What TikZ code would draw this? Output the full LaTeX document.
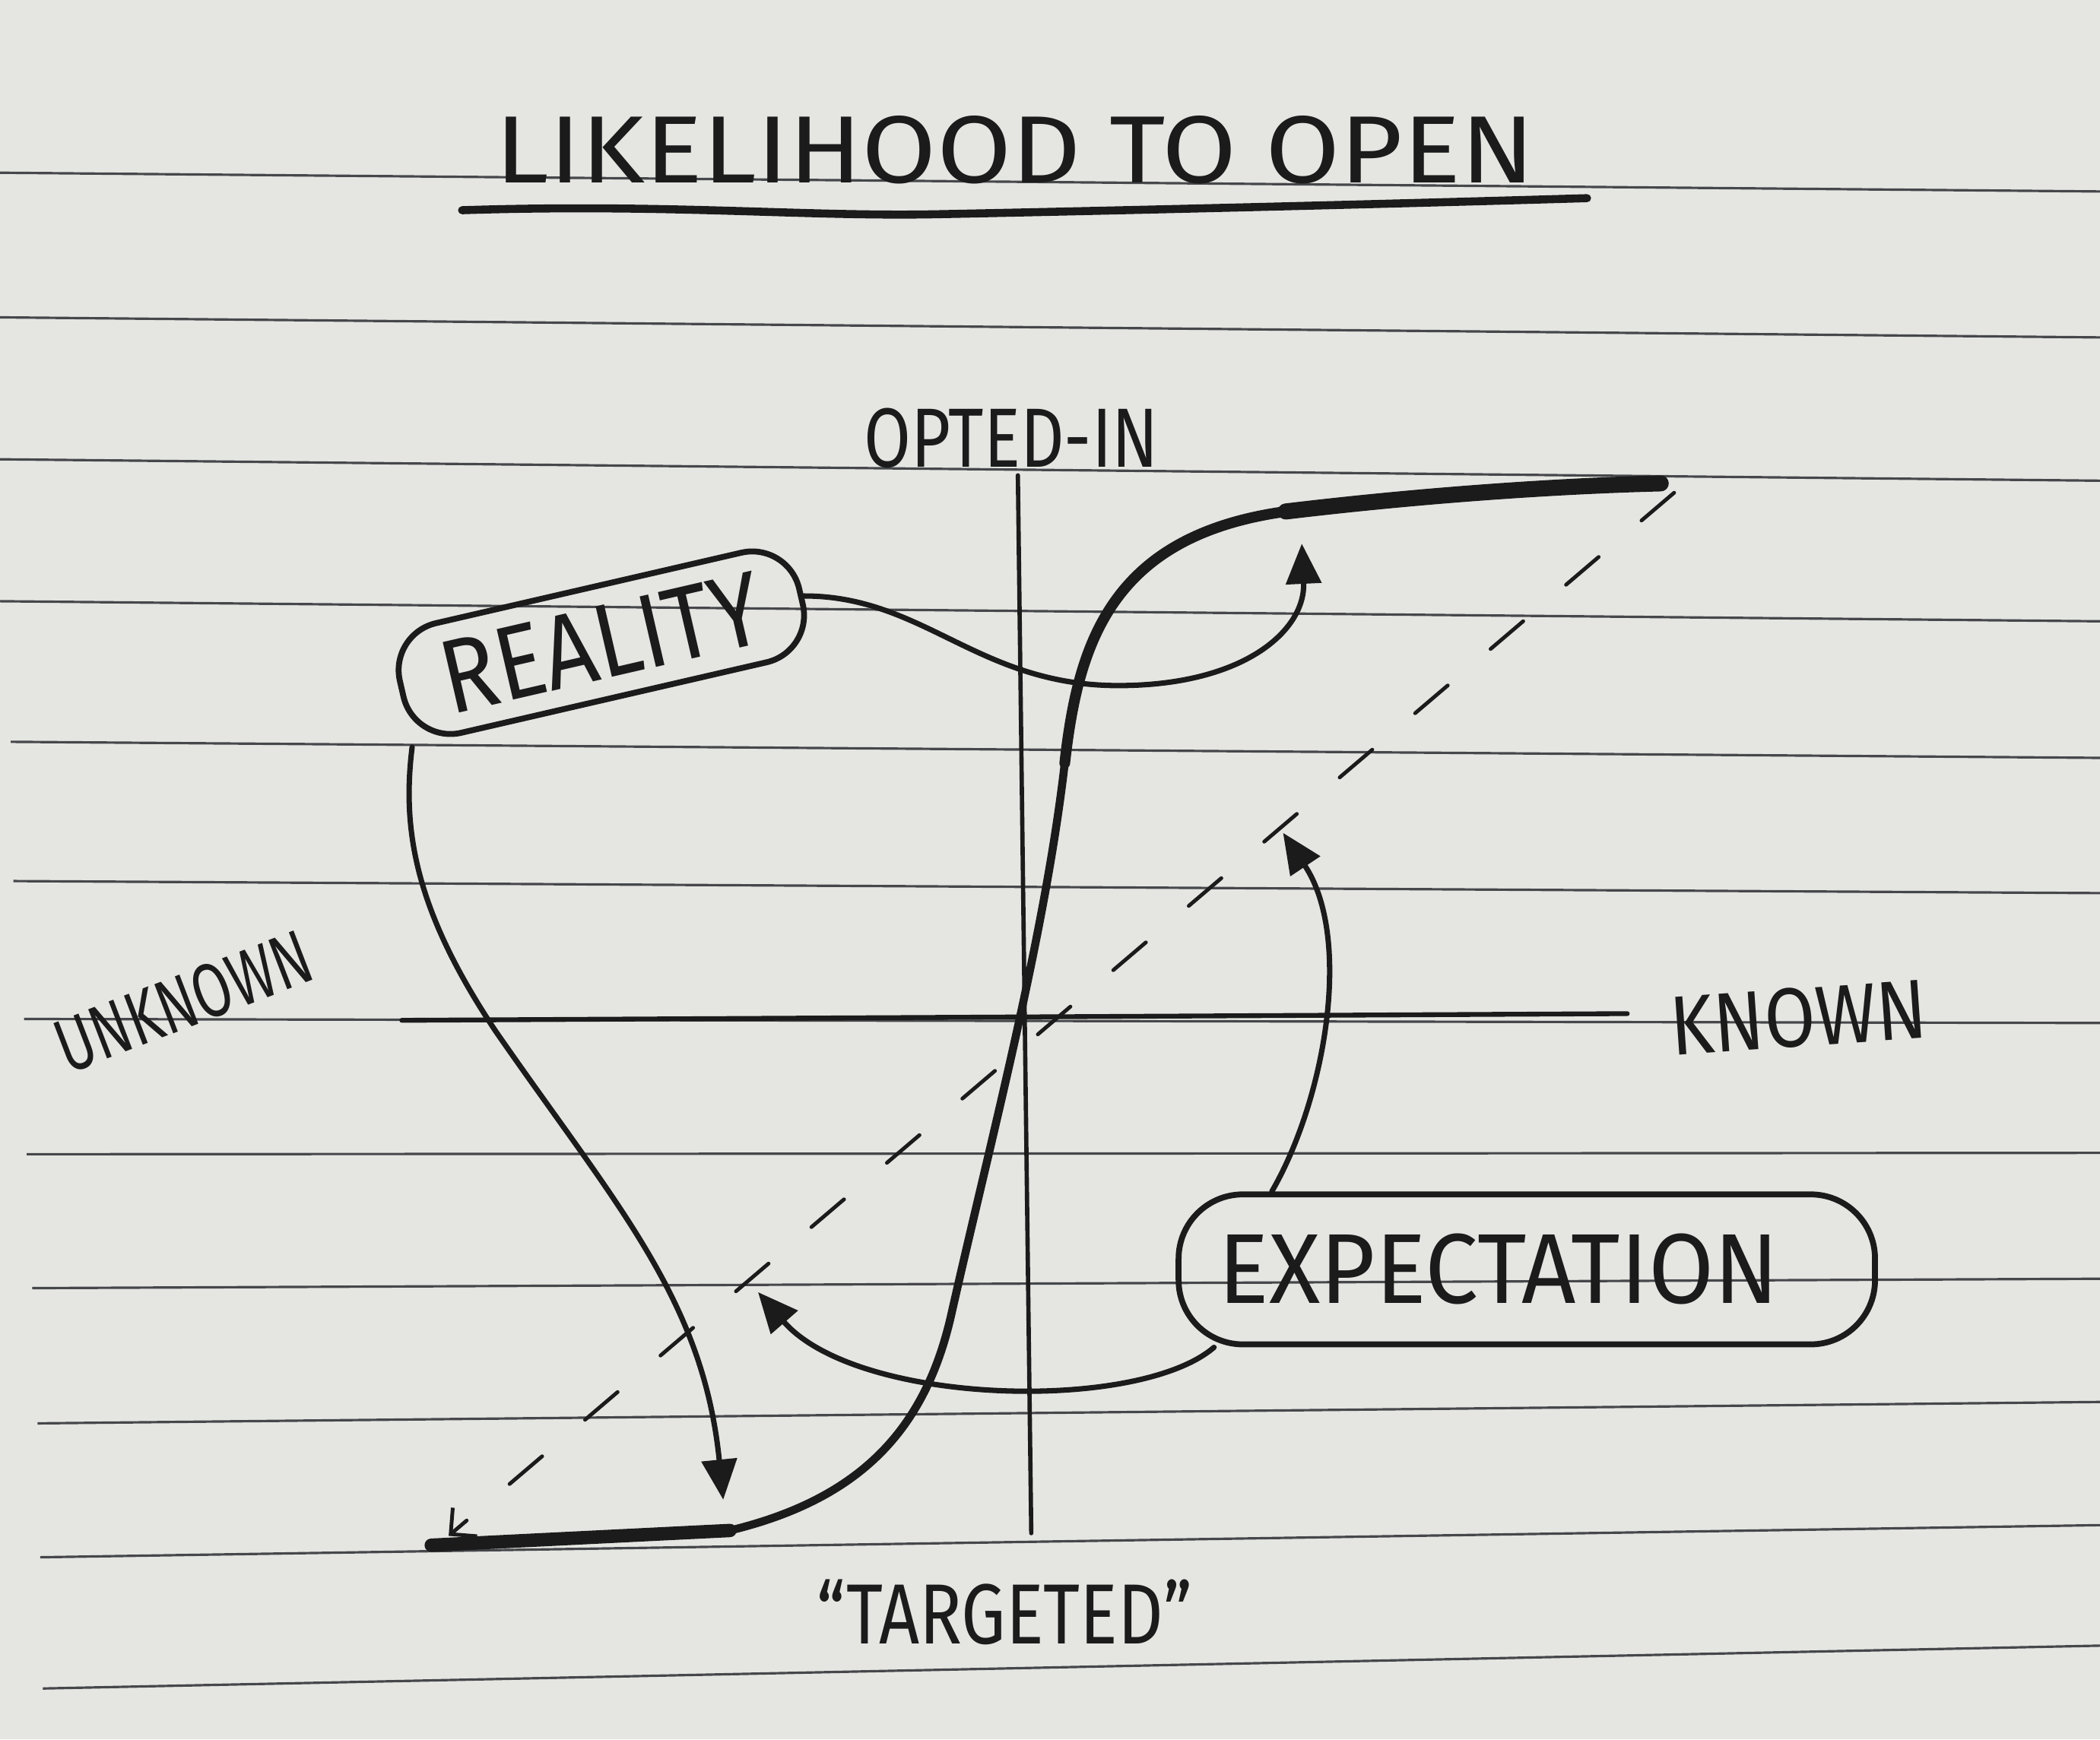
\documentclass[tikz,border=0pt]{standalone}
\usepackage{fontspec}
\setmainfont{Fira Sans}
\usepackage{graphicx}
\usetikzlibrary{arrows.meta}
\definecolor{paper}{HTML}{E5E6E2}
\definecolor{ink}{HTML}{1B1B1B}
\definecolor{rule}{HTML}{45474A}
\newcommand{\handtext}[3]{\resizebox{#1}{#2}{#3}}

\begin{document}
\begin{tikzpicture}[x=0.5pt, y=-0.5pt,
	ink/.style={draw=ink, line cap=round, line join=round},
	tag/.style={text=ink, inner sep=0pt},
	bubble/.style={ink, text=ink, line width=2.2pt, rounded corners=18pt, inner sep=0pt},
	pointer/.style={ink, line width=2pt, -{Triangle[length=15pt,width=13pt]}}]
	\fill[paper] (0,0) rectangle (1568,1299);
	\useasboundingbox (0,0) rectangle (1568,1299);
	% ruled paper
	\foreach \s/\a/\b in {0/129/143, 0/237/252, 0/343/359, 0/449/464, 8/554/566, 10/658/667, 18/761/764, 20/862/861, 24/962/955, 28/1063/1047, 30/1163/1139, 32/1261/1229}
		\draw[rule, line width=0.9pt] (\s,\a) -- (1568,\b);

	% title
	\node[tag] (title) at (758,112) {\handtext{388pt}{25pt}{LIKELIHOOD TO OPEN}};
	\draw[ink, line width=3pt] (345,157) .. controls (500,152) and (600,162) .. (700,160) .. controls (850,157) and (1050,152) .. (1185,148);

	% axes
	\node[tag] (optin) at (755,327) {\handtext{110pt}{22pt}{OPTED-IN}};
	\node[tag] (target) at (750,1204) {\handtext{140pt}{24pt}{“TARGETED”}};
	\node[tag, rotate=21] (unknown) at (137,748) {\handtext{100pt}{20pt}{UNKNOWN}};
	\node[tag, rotate=4] (known) at (1343,760) {\handtext{96pt}{22pt}{KNOWN}};
	\coordinate (ytop) at (760,355);
	\coordinate (ybot) at (770,1145);
	\coordinate (xleft) at (300,762);
	\coordinate (xright) at (1215,757);
	\draw[ink, line width=1.6pt] (ybot) -- (ytop);
	\draw[ink, line width=1.8pt] (xleft) -- (xright);

	% expected: straight line
	\coordinate (dtop) at (1250,368);
	\coordinate (dbot) at (335,1147);
	\draw[ink, line width=1.4pt, dash pattern=on 16pt off 21pt, -{Straight Barb[length=7pt,width=14pt]}] (dtop) -- (dbot);

	% real: s-curve
	\coordinate (sbot) at (322,1154);
	\coordinate (stop) at (1240,361);
	\draw[ink, line width=3pt] (sbot) -- (545,1143) .. controls (640,1120) and (690,1070) .. (710,983)
		.. controls (740,850) and (780,700) .. (795,570) .. controls (805,480) and (830,400) .. (960,382)
		.. controls (1060,370) and (1160,363) .. (stop);
	\draw[ink, line width=5pt] (sbot) -- (545,1143);
	\draw[ink, line width=4pt] (795,570) .. controls (805,480) and (830,400) .. (960,382);
	\draw[ink, line width=6pt] (960,382) .. controls (1060,370) and (1160,363) .. (stop);

	% bubbles
	\node[bubble, rotate=13, minimum width=153pt, minimum height=42pt] (reality) at (449,480) {\handtext{122pt}{27pt}{REALITY}};
	\node[bubble, rounded corners=24pt, minimum width=260pt, minimum height=56pt] (expect) at (1140,948) {\handtext{209pt}{26pt}{EXPECTATION}\hspace*{21pt}};

	\coordinate (realhi) at (972,406);
	\coordinate (reallo) at (540,1120);
	\coordinate (exphi) at (958,622);
	\coordinate (explo) at (566,965);
	\draw[pointer] (reality.east) .. controls (690,445) and (730,512) .. (835,512) .. controls (930,512) and (975,470) .. (realhi);
	\draw[pointer] (reality.south west) .. controls (300,620) and (310,680) .. (370,770) .. controls (460,900) and (525,970) .. (reallo);
	\draw[pointer] (expect.163) .. controls (990,820) and (1010,700) .. (exphi);
	\draw[pointer] (expect.194) .. controls (850,1055) and (640,1050) .. (explo);
\end{tikzpicture}
\end{document}
